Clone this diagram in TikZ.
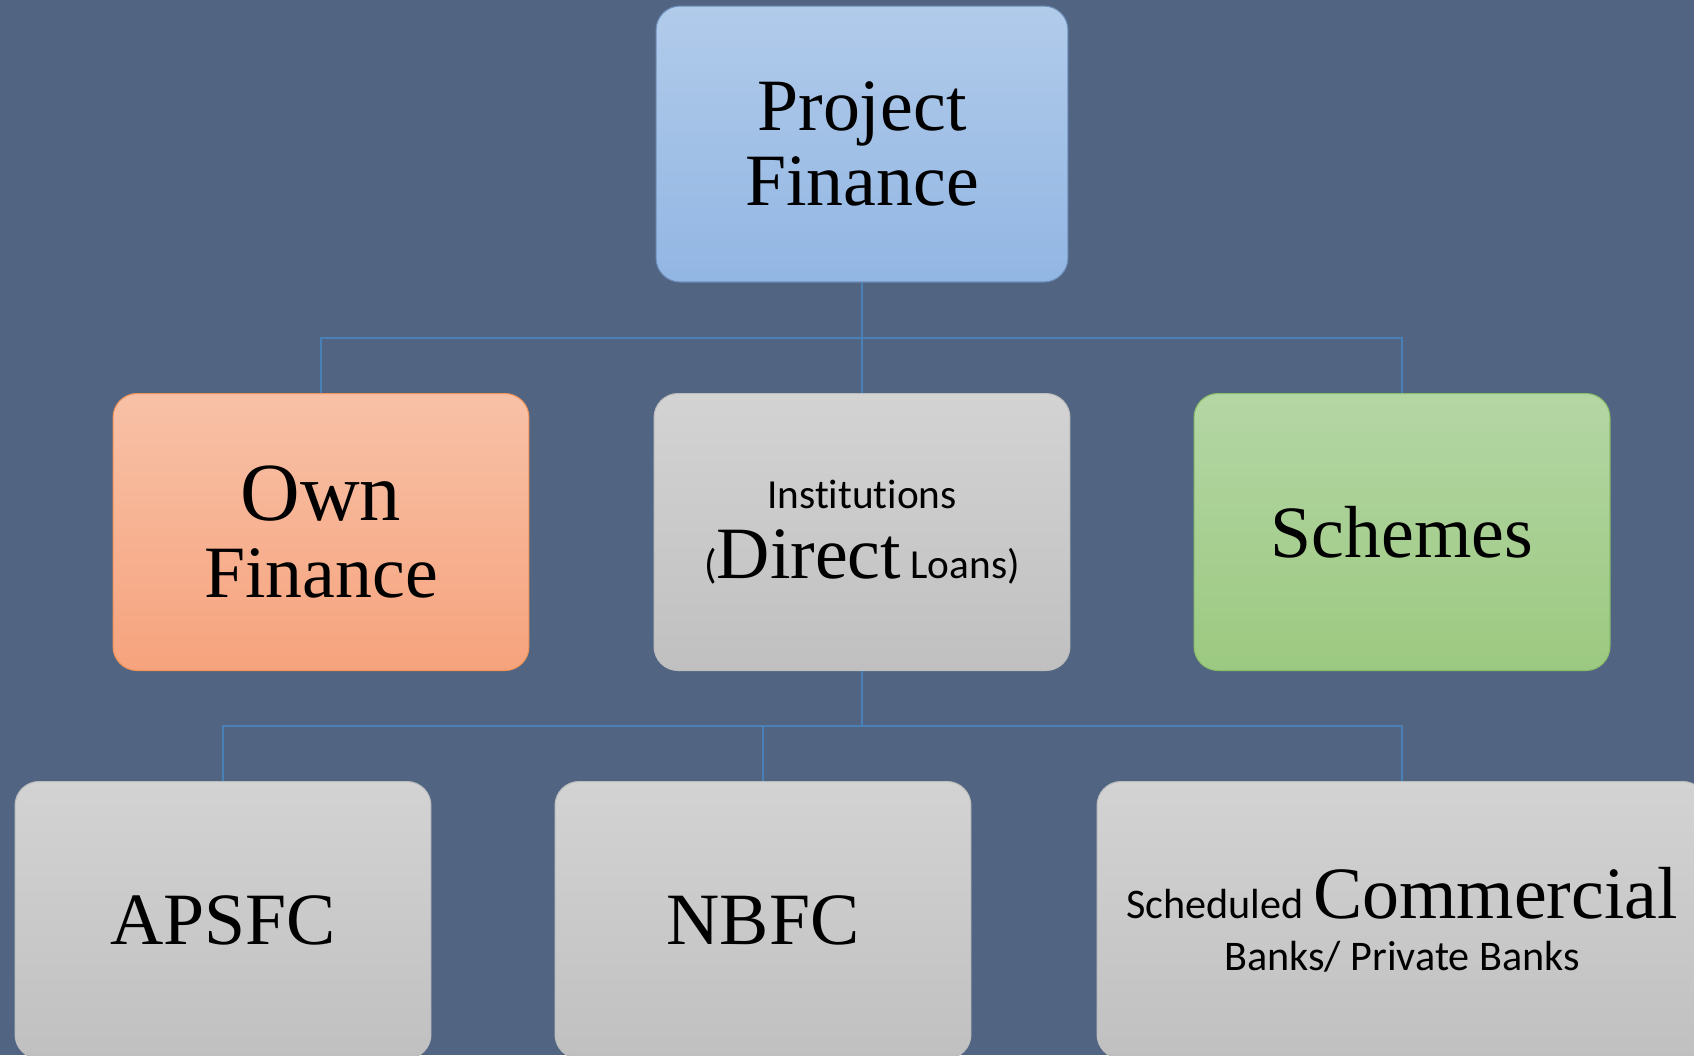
\documentclass[tikz,border=0pt]{standalone}
\usepackage{fontspec}
\setmainfont{Liberation Serif}
\newfontfamily\calibri[Ligatures=NoCommon]{Carlito}
\usepackage{xcolor}
\definecolor{slate}{HTML}{516481}
\definecolor{linkblue}{HTML}{4A80B8}
\definecolor{bluetop}{HTML}{B1CBEA}
\definecolor{bluebot}{HTML}{92B6E3}
\definecolor{blueline}{HTML}{6F8FBA}
\definecolor{orangetop}{HTML}{F8C1A7}
\definecolor{orangebot}{HTML}{F6A37D}
\definecolor{orangeline}{HTML}{F0945A}
\definecolor{greytop}{HTML}{D3D3D3}
\definecolor{greybot}{HTML}{C0C0C0}
\definecolor{greyline}{HTML}{BDBDBD}
\definecolor{greentop}{HTML}{B4D6A4}
\definecolor{greenbot}{HTML}{9CC981}
\definecolor{greenline}{HTML}{8BBE69}
\tikzset{%
  box/.style={rectangle,rounded corners=0.48cm,minimum width=8.32cm,minimum height=5.54cm,align=center,inner sep=0pt,line width=0.6pt},
  bluebox/.style={box,draw=blueline,top color=bluetop,bottom color=bluebot},
  orangebox/.style={box,draw=orangeline,top color=orangetop,bottom color=orangebot},
  greybox/.style={box,draw=greyline,top color=greytop,bottom color=greybot},
  greenbox/.style={box,draw=greenline,top color=greentop,bottom color=greenbot},
  link/.style={draw=linkblue,line width=1.6pt},
  serif/.style={font=\fontsize{42}{43}\selectfont},
}

\begin{document}
\begin{tikzpicture}[x=0.02cm,y=-0.02cm]
  \fill[slate] (0,0) rectangle (1694,1055);
  \useasboundingbox (0,0) rectangle (1694,1055);
  \clip (0,0) rectangle (1694,1055);

  \coordinate (bus_top) at (862,338);
  \coordinate (bus_low) at (862,726);

  \node[bluebox,serif,minimum width=8.24cm,minimum height=5.52cm] (node_project) at (862,144) {Project\\Finance};

  \node[orangebox,font=\fontsize{42}{44}\selectfont] (node_own) at (321,532) {{\fontsize{47}{44}\selectfont Own}\\Finance};
  \node[greybox,font=\calibri\fontsize{23.5}{40}\selectfont] (node_inst) at (862,532) {Institutions\\({\rmfamily\fontsize{42}{40}\selectfont Direct} Loans)};
  \node[greenbox,serif] (node_schemes) at (1402,532) {Schemes};

  \node[greybox,serif] (node_apsfc) at (223,920) {APSFC};
  \node[greybox,serif] (node_nbfc) at (763,920) {NBFC};
  \node[greybox,minimum width=12.2cm,font=\calibri\fontsize{24}{29.5}\selectfont] (node_banks) at (1402,920) {Scheduled {\rmfamily\fontsize{42}{29.5}\selectfont Commercial}\\Banks/ Private Banks};

  \draw[link] (node_project) -- (bus_top);
  \draw[link] (bus_top) -| (node_own);
  \draw[link] (bus_top) -- (node_inst);
  \draw[link] (bus_top) -| (node_schemes);

  \draw[link] (node_inst) -- (bus_low);
  \draw[link] (bus_low) -| (node_apsfc);
  \draw[link] (bus_low) -| (node_nbfc);
  \draw[link] (bus_low) -| (node_banks);
\end{tikzpicture}
\end{document}
